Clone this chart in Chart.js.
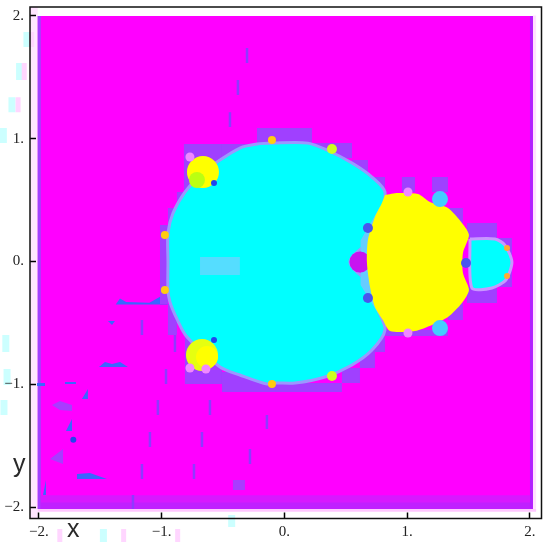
<!DOCTYPE html>
<html>
<head>
<meta charset="utf-8">
<script src="https://cdn.jsdelivr.net/npm/chart.js@4"></script>
<style>
html, body { margin: 0; padding: 0; background: #fff; }
canvas { display: block; filter: blur(0.45px); }
</style>
</head>
<body>
<canvas id="fractalChart" width="550" height="547"></canvas>
<script>
const xTicks = [-2, -1, 0, 1, 2];
const yTicks = [-2, -1, 0, 1, 2];

// regions of the density plot in x,y units
const plotBox = [-2.01, -2.012, 2.024, 1.996];
const leftMargin = [-2.073, -2.09, -2.01, 2.07];
const rightMargin = [2.024, -2.03, 2.05, 2.0];
const bottomSoft = [-2.01, -2.035, 2.05, -2.012];
const leftEdge = [-2.01, -2.012, -1.985, 1.996];
const rightEdge = [2.0, -2.012, 2.024, 1.996];
const bottomBand = [-1.985, -2.012, 2.0, -1.9];
const bottomEdge = [-1.985, -2.012, 2.0, -1.96];

const haloCells = [
    [-0.819, 0.565, -0.509, 0.955], [-0.876, 0.435, -0.811, 0.565], [-0.949, 0.297, -0.876, 0.435],
    [-1.014, -0.346, -0.949, 0.297], [-0.949, -0.598, -0.876, -0.346], [-0.811, -0.996, -0.509, -0.598],
    [-0.509, -1.061, -0.077, -0.898], [-0.509, 0.825, -0.224, 0.955], [-0.224, 0.963, 0.224, 1.085],
    [0.224, 0.841, 0.55, 0.963], [0.55, 0.687, 0.68, 0.825], [0.68, 0.565, 0.819, 0.687],
    [0.957, 0.565, 1.063, 0.687], [1.202, 0.565, 1.332, 0.687], [0.819, -0.606, 1.332, -0.557],
    [1.332, 0.313, 1.454, 0.435], [1.487, 0.191, 1.731, 0.313], [1.731, -0.207, 1.853, 0.191],
    [1.487, -0.337, 1.731, -0.207], [1.332, -0.476, 1.454, -0.337], [0.737, -0.736, 0.819, -0.614],
    [0.615, -0.866, 0.737, -0.72], [0.468, -0.988, 0.615, -0.866], [-0.077, -1.061, 0.468, -0.988]
];

const bodyOutline = [
    [-0.949, -0.004], [-0.949, 0.232], [-0.908, 0.394], [-0.811, 0.565], [-0.688, 0.703], [-0.525, 0.825],
    [-0.363, 0.923], [-0.224, 0.955], [-0.094, 0.963], [0.191, 0.963], [0.35, 0.905], [0.55, 0.801],
    [0.713, 0.687], [0.819, 0.565], [0.778, 0.362], [0.697, 0.175], [0.534, -0.004], [0.697, -0.191],
    [0.762, -0.394], [0.819, -0.557], [0.713, -0.72], [0.55, -0.841], [0.33, -0.939], [0.086, -0.988],
    [-0.077, -0.988], [-0.143, -0.996], [-0.363, -0.923], [-0.525, -0.858], [-0.794, -0.614],
    [-0.876, -0.467], [-0.933, -0.329], [-0.949, -0.232], [-0.949, -0.004]
];
const bodyPatch = [-0.688, -0.11, -0.363, 0.037];
const seam = [[0.78, 0.45], [0.62, 0.17], [0.62, -0.19], [0.78, -0.45]];

const lobeOutline = [
    [0.819, 0.541], [0.925, 0.557], [1.088, 0.549], [1.185, 0.484], [1.332, 0.435], [1.446, 0.313],
    [1.503, 0.215], [1.454, 0.069], [1.454, -0.093], [1.503, -0.232], [1.446, -0.337], [1.332, -0.451],
    [1.202, -0.516], [1.063, -0.565], [0.859, -0.565], [0.802, -0.476], [0.737, -0.37], [0.697, -0.207],
    [0.672, -0.012], [0.68, 0.175], [0.737, 0.362], [0.794, 0.476], [0.819, 0.541]
];
const tipOutline = [
    [1.511, 0.183], [1.715, 0.183], [1.796, 0.134], [1.853, -0.004],
    [1.804, -0.15], [1.69, -0.215], [1.527, -0.215], [1.511, 0.183]
];

const upperBlob = [[-0.664, 0.728]];
const lowerBlob = [[-0.672, -0.76]];
const limeSpot = [[-0.713, 0.663]];
const lowerCore = [[-0.631, -0.777]];
const greenDots = [[0.387, 0.915], [0.387, -0.931]];
const orangeDots = [[-0.102, 0.988], [-0.102, -0.996], [-0.974, 0.215], [-0.974, -0.232]];
const tipDots = [[1.813, 0.11], [1.813, -0.118]];
const skyLobes = [[1.267, 0.508], [1.267, -0.541]];
const notch = [[0.615, -0.004]];
const blueDots = [[0.68, 0.272], [0.68, -0.297], [1.479, -0.012]];
const pinkDots = [[-0.77, 0.85], [-0.77, -0.866], [-0.64, -0.874], [1.006, 0.565], [1.006, -0.581]];
const navyDots = [[-0.574, 0.638], [-0.574, -0.638], [-1.72, -1.45]];

// stray mesh cells in the lower left
const blueShards = [
    [[-1.375, -0.35], [-1.34, -0.3], [-1.29, -0.33], [-1.1, -0.335], [-1.01, -0.285], [-0.95, -0.35]],
    [[-1.511, -0.858], [-1.462, -0.817], [-1.405, -0.833], [-1.34, -0.817], [-1.275, -0.858]],
    [[-1.65, -1.118], [-1.601, -1.037], [-1.601, -1.118]],
    [[-1.78, -1.378], [-1.731, -1.28], [-1.731, -1.378]],
    [[-1.69, -1.728], [-1.585, -1.72], [-1.446, -1.768], [-1.69, -1.768]],
    [[-1.438, -0.484], [-1.381, -0.484], [-1.405, -0.516]],
    [[-2.016, -0.988], [-1.951, -0.988], [-1.951, -1.012], [-2.016, -1.012]],
    [[-1.788, -0.98], [-1.699, -0.98], [-1.699, -0.996], [-1.788, -0.996]],
    [[-1.943, -1.776], [-1.943, -1.898], [-1.967, -1.898]]
];
const purpleShards = [
    [[-1.894, -1.167], [-1.829, -1.134], [-1.731, -1.167], [-1.731, -1.215], [-1.829, -1.207]],
    [[-1.91, -1.606], [-1.804, -1.524], [-1.804, -1.646]],
    [[-0.42, -1.776], [-0.322, -1.776], [-0.322, -1.858], [-0.42, -1.858]]
];

// x, y top, y bottom
const thinMarks = [
    [-0.305, 1.736, 1.614], [-0.379, 1.476, 1.354], [-0.444, 1.215, 1.094], [-1.161, -0.476, -0.598],
    [-0.965, -0.874, -0.996], [-1.031, -1.126, -1.248], [-1.096, -1.386, -1.508], [-1.161, -1.646, -1.768],
    [-1.234, -1.898, -2.012], [-0.607, -1.126, -1.248], [-0.672, -1.386, -1.508], [-0.737, -1.646, -1.768],
    [-0.143, -1.248, -1.362], [-0.281, -1.524, -1.646], [-0.892, -0.598, -0.736]
];
const paleCyanMarks = [
    [-2.098, 1.866, 1.744], [-2.158, 1.614, 1.476], [-2.22, 1.337, 1.215], [-2.29, 1.085, 0.963],
    [-2.27, -0.598, -0.736], [-2.26, -0.874, -1.004], [-2.285, -1.126, -1.248],
    [-1.475, -2.175, -2.281], [-0.43, -2.061, -2.159]
];
const palePinkMarks = [
    [-2.06, 1.866, 1.744], [-2.12, 1.614, 1.476], [-2.17, 1.337, 1.215],
    [-1.83, -2.175, -2.281], [-1.31, -2.175, -2.281], [-0.87, -2.175, -2.281]
];

function toPoints(list) {
    return list.map(p => ({ x: p[0], y: p[1] }));
}

function boxPoints(b) {
    return [[b[0], b[1]], [b[2], b[1]], [b[2], b[3]], [b[0], b[3]]];
}

function shape(list, color, edge, edgeWidth, tension) {
    return {
        data: toPoints(list),
        showLine: true,
        fill: 'shape',
        tension: tension || 0,
        pointRadius: 0,
        backgroundColor: color,
        borderColor: edge || color,
        borderWidth: edgeWidth || 0
    };
}

function dots(list, color, radius) {
    return {
        data: toPoints(list),
        showLine: false,
        pointRadius: radius,
        pointBackgroundColor: color,
        pointBorderWidth: 0
    };
}

function mark(m, color, width) {
    return {
        data: [{ x: m[0], y: m[1] }, { x: m[0], y: m[2] }],
        showLine: true,
        clip: false,
        pointRadius: 0,
        borderColor: color,
        borderWidth: width
    };
}

// bottom layer first, the list is reversed below because chart.js paints dataset 0 on top
const layers = [
    shape(boxPoints(leftMargin), '#ffe6ff'),
    shape(boxPoints(rightMargin), '#ffe0ff'),
    shape(boxPoints(bottomSoft), '#ffc8ff'),
    shape(boxPoints(plotBox), '#ff00ff'),
    shape(boxPoints(leftEdge), '#a040ff'),
    shape(boxPoints(rightEdge), '#b020ff'),
    shape(boxPoints(bottomBand), '#d818ff'),
    shape(boxPoints(bottomEdge), '#c020ff'),
    ...thinMarks.map(m => mark(m, '#9038ff', 2.5)),
    ...paleCyanMarks.map(m => mark(m, '#ccffff', 7)),
    ...palePinkMarks.map(m => mark(m, '#ffd6ff', 5)),
    ...purpleShards.map(s => shape(s, '#a83cff')),
    ...blueShards.map(s => shape(s, '#3a66ff')),
    ...haloCells.map(c => shape(boxPoints(c), '#a040ff')),
    shape(tipOutline, '#00ffff', '#c898ff', 3, 0.25),
    shape(bodyOutline, '#00ffff', '#9a98ff', 3, 0.3),
    shape(boxPoints(bodyPatch), '#55ddff'),
    shape(seam, '#66ccff'),
    dots(notch, '#c814f0', 10.5),
    shape(lobeOutline, '#ffff00', null, 0, 0.25),
    dots(skyLobes, '#44ccff', 8),
    dots(upperBlob, '#ffff00', 16),
    dots(lowerBlob, '#e6ff10', 16),
    dots(limeSpot, '#bbff11', 8),
    dots(lowerCore, '#ffff00', 11),
    dots(greenDots, '#ccff22', 5),
    dots(orangeDots, '#ffcc11', 4),
    dots(tipDots, '#ffaa33', 3),
    dots(blueDots, '#4a55ee', 5),
    dots(pinkDots, '#f088ff', 4.5),
    dots(navyDots, '#2244ee', 3)
];

const plotFrame = {
    id: 'plotFrame',
    afterDraw(chart) {
        const { ctx, chartArea: a } = chart;
        ctx.save();
        ctx.strokeStyle = '#111';
        ctx.lineWidth = 1.5;
        ctx.strokeRect(a.left, a.top, a.right - a.left, a.bottom - a.top);
        ctx.fillStyle = '#2a2a2a';
        ctx.font = '25px "Liberation Sans"';
        ctx.textBaseline = 'alphabetic';
        ctx.textAlign = 'left';
        ctx.fillText('x', 67, 537);
        ctx.fillText('y', 13, 472);
        ctx.restore();
    }
};

function tickText(v) {
    return (v < 0 ? '\u2212' : '') + Math.abs(v) + '.';
}

function axis(ticks, min, max, fitSide, fitSize, padding) {
    return {
        type: 'linear',
        min: min,
        max: max,
        afterBuildTicks: s => { s.ticks = ticks.map(value => ({ value })); },
        afterFit: s => {
            s[fitSide] = fitSize;
            s.paddingLeft = s.paddingRight = s.paddingTop = s.paddingBottom = 0;
        },
        border: { display: false },
        grid: { drawOnChartArea: false, tickLength: -6, tickColor: '#000', tickWidth: 1.5, z: 1 },
        ticks: {
            autoSkip: false,
            maxRotation: 0,
            padding: padding,
            color: '#222',
            font: { family: '"Liberation Serif"', size: 15 },
            callback: tickText,
            z: 1
        }
    };
}

new Chart(document.getElementById('fractalChart'), {
    type: 'scatter',
    data: { datasets: layers.reverse() },
    plugins: [plotFrame],
    options: {
        responsive: false,
        animation: false,
        layout: { autoPadding: false, padding: { top: 7, right: 8.5, left: 0, bottom: 0 } },
        plugins: { legend: { display: false }, tooltip: { enabled: false } },
        scales: {
            x: axis(xTicks, -2.073, 2.094, 'height', 28.5, 11),
            y: axis(yTicks, -2.09, 2.07, 'width', 30, 12)
        }
    }
});
</script>
</body>
</html>
